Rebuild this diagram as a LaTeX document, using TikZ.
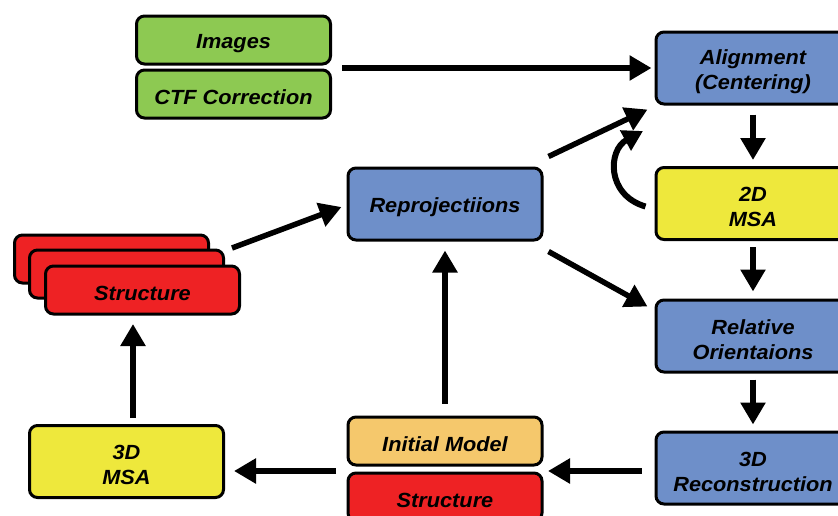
\documentclass[tikz,border=0pt]{standalone}
\usepackage{fontspec}
\setmainfont[FakeStretch=1.06]{Liberation Sans}
\usetikzlibrary{arrows.meta,calc}
\definecolor{cgreen}{HTML}{8DC952}
\definecolor{cblue}{HTML}{6E8FC9}
\definecolor{cyellow}{HTML}{EEE83C}
\definecolor{cred}{HTML}{EE2224}
\definecolor{corange}{HTML}{F5C86C}
\tikzset{
  box/.style={draw=black, line width=3pt, rounded corners=8pt, inner sep=0pt},
  flat/.style={box, minimum width=194pt, minimum height=48pt},
  tall/.style={box, minimum width=194pt, minimum height=72pt},
  txt/.style={align=center, inner sep=0pt,
    font=\fontsize{20.5}{25}\selectfont\bfseries\itshape},
  arr/.style={line width=5.5pt, -{Triangle[length=22pt,width=24pt]}},
}
\newcommand\bx[4]{%
  \node[#1] (#2) at (#3) {};
  \node[txt] (#2-t) at ($(#2.center)+(0,3.5)$) {#4};}
\begin{document}
\begin{tikzpicture}[x=1pt,y=-1pt]
\clip (0,0) rectangle (838,515);
\fill[white] (0,0) rectangle (838,515);
% top-left group
\bx{flat, fill=cgreen}{img}{233.5,40}{Images}
\bx{flat, fill=cgreen}{ctf}{233.5,94}{CTF Correction}
% right column
\bx{tall, fill=cblue}{align}{753,68}{Alignment\\(Centering)}
\bx{tall, fill=cyellow}{msa2}{753,203.5}{2D\\MSA}
\bx{tall, fill=cblue}{relo}{753,336}{Relative\\Orientaions}
\bx{tall, fill=cblue}{recon}{753,468}{3D\\Reconstruction}
% middle
\bx{tall, fill=cblue}{reproj}{445,204}{Reprojectiions}
\bx{flat, fill=corange}{im}{445,441}{Initial Model}
\bx{flat, fill=cred}{sb}{445,497}{Structure}
% left
\bx{tall, fill=cyellow}{msa3}{126.5,461.5}{3D\\MSA}
\node[flat, fill=cred] (sback) at (111.5,259) {};
\node[flat, fill=cred] (smid) at (126.5,274) {};
\bx{flat, fill=cred}{sfront}{142.5,290}{Structure}
% coordinates
\coordinate (grp) at (342,68);
\coordinate (gapE) at (548,471);
\coordinate (gapW) at (336,471);
\coordinate (stk) at (232,248);
\coordinate (msatop) at (133,418);
% arrows
\draw[arr] (grp) -- ($(align.west)+(-3,0)$) ;
\draw[arr, shorten <=9pt, shorten >=6pt] (align.south) -- (msa2.north);
\draw[arr, shorten <=6pt, shorten >=7pt] (msa2.south) -- (relo.north);
\draw[arr, shorten <=6pt, shorten >=6pt] (relo.south) -- (recon.north);
\draw[arr, shorten <=13pt] (recon.west |- gapE) -- (gapE);
\draw[arr] (gapW) -- ($(msa3.east |- gapW)+(9,0)$);
\draw[arr] (msatop) -- (133,324);
\draw[arr] (stk) -- ($(reproj.west)+(-5,3)$);
\draw[arr, shorten <=12pt, shorten >=9pt] (im.north) -- (reproj.south);
\draw[arr] ($(reproj.north east)+(5,-10)$) -- ($(align.south west)+(-7,4)$);
\draw[arr] ($(reproj.south east)+(5,10)$) -- ($(relo.north west)+(-7,8)$);
\draw[line width=6pt, -{Triangle[length=20pt,width=22pt]}] ($(msa2.west)+(-9,3)$) .. controls (606,195) and (608,150) .. (643,131);
\end{tikzpicture}
\end{document}
